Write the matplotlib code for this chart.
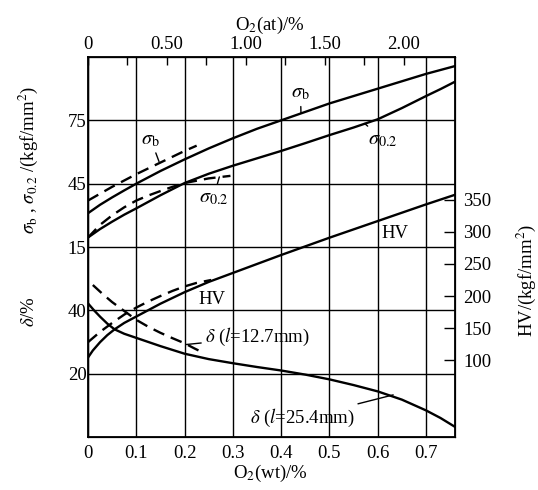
import numpy as np
import matplotlib
matplotlib.use("Agg")
import matplotlib.pyplot as plt

plt.rcParams["font.family"] = ["Liberation Serif", "DejaVu Serif"]
plt.rcParams["mathtext.fontset"] = "stix"

# ---- data ----
# x = O2 wt%
wt_sb = [0, 0.025, 0.05, 0.075, 0.1, 0.15, 0.2, 0.25, 0.3, 0.35, 0.4,
         0.45, 0.5, 0.55, 0.6, 0.65, 0.7, 0.76]
sb = [31, 35, 38.5, 41.8, 45, 51, 56.5, 61.7, 66.5, 71, 75,
      79, 83, 86.5, 90, 93.5, 97, 100.7]

wt_s02 = [0, 0.025, 0.05, 0.075, 0.1, 0.15, 0.2, 0.25, 0.3, 0.35, 0.4,
          0.45, 0.5, 0.55, 0.6, 0.65, 0.7, 0.73, 0.76]
s02 = [19.5, 23.5, 27, 30.3, 33.3, 39.5, 45.3, 49.7, 53.5, 57, 60.5,
       64.2, 68, 71.6, 75.5, 80.8, 86.5, 89.8, 93.3]

wt_sb_d = [0, 0.05, 0.1, 0.15, 0.2, 0.225]
sb_d = [37, 43.5, 49.5, 55, 60.5, 63]

wt_s02_d = [0, 0.025, 0.05, 0.075, 0.1, 0.125, 0.15, 0.175, 0.2, 0.25, 0.295]
s02_d = [19.5, 25.5, 30, 33.8, 37, 39.4, 41.5, 43.5, 45.3, 47.5, 48.7]

wt_hv = [0, 0.01, 0.025, 0.04, 0.055, 0.075, 0.1, 0.15, 0.2, 0.25, 0.3,
         0.35, 0.4, 0.45, 0.5, 0.55, 0.6, 0.65, 0.7, 0.76]
hv = [104, 115, 128, 139, 148, 158, 168, 188, 206, 222, 236,
      250, 264, 277.5, 291, 304, 317, 330, 343, 358]

wt_hv_d = [0, 0.025, 0.05, 0.075, 0.1, 0.125, 0.15, 0.175, 0.2, 0.225, 0.255]
hv_d = [128, 144, 158, 171, 182, 191.5, 200, 208, 215, 220.5, 225]

wt_dl = [0, 0.0125, 0.025, 0.04, 0.055, 0.075, 0.1, 0.125, 0.15, 0.2, 0.25,
         0.3, 0.35, 0.4, 0.45, 0.5, 0.55, 0.6, 0.65, 0.7, 0.73, 0.76]
dl = [42.2, 40, 38, 35.8, 34, 32.6, 31.3, 30, 28.7, 26.3, 24.6,
      23.3, 22.1, 21, 19.7, 18.2, 16.4, 14.4, 11.8, 8.4, 6, 3.2]

wt_ds = [0.01, 0.03, 0.05, 0.075, 0.1, 0.125, 0.15, 0.175, 0.2, 0.22, 0.24]
ds = [48, 45.2, 42.6, 39.8, 37, 34.8, 32.9, 31.2, 29.6, 28, 26.5]

wt_ticks = [0, 0.1, 0.2, 0.3, 0.4, 0.5, 0.6, 0.7]
wt_labels = ["0", "0.1", "0.2", "0.3", "0.4", "0.5", "0.6", "0.7"]
at_ticks = [0, 0.5, 1.0, 1.5, 2.0]
at_labels = ["0", "0.50", "1.00", "1.50", "2.00"]
at_minor = [0.25, 0.75, 1.25, 1.75]
sig_ticks = [-45, -15, 15, 45, 75]
sig_labels = ["", "", "15", "45", "75"]
d_ticks = [20, 40]
hv_ticks = [100, 150, 200, 250, 300, 350]

AT_PER_WT = 3.06
FS = 13.5
LW = 1.7
DASH = (5, 3)

fig = plt.figure(figsize=(5.38, 4.90), dpi=100)
ax = fig.add_axes([88 / 538, 1 - 437 / 490, 367 / 538, 380 / 490])

# sigma axis (main)
ax.set_xlim(0, 0.76)
ax.set_ylim(-75, 105)
ax.set_xticks(wt_ticks)
ax.set_xticklabels(wt_labels)
ax.set_yticks(sig_ticks)
ax.set_yticklabels(sig_labels)
ax.grid(True, color="black", lw=1.0)
ax.tick_params(axis="both", length=0, labelsize=FS)
ax.tick_params(axis="x", pad=6)
ax.tick_params(axis="y", pad=1)
for s in ax.spines.values():
    s.set_linewidth(1.3)

ax.plot(wt_sb, sb, color="black", lw=LW)
ax.plot(wt_s02, s02, color="black", lw=LW)
ax.plot(wt_sb_d, sb_d, color="black", lw=LW, dashes=DASH)
ax.plot(wt_s02_d, s02_d, color="black", lw=LW, dashes=DASH)

# delta axis, ticks on the left
ax_d = ax.twinx()
ax_d.set_ylim(0, 120)
ax_d.set_yticks(d_ticks)
ax_d.yaxis.tick_left()
ax_d.tick_params(length=0, labelsize=FS, pad=1)
ax_d.plot(wt_dl, dl, color="black", lw=LW)
ax_d.plot(wt_ds, ds, color="black", lw=LW, dashes=DASH)

# HV axis on the right
ax_hv = ax.twinx()
ax_hv.set_ylim(-20, 573)
ax_hv.set_yticks(hv_ticks)
ax_hv.tick_params(direction="in", length=8, width=1.0, labelsize=FS, pad=6)
ax_hv.plot(wt_hv, hv, color="black", lw=LW)
ax_hv.plot(wt_hv_d, hv_d, color="black", lw=LW, dashes=DASH)

# top axis: O2 at%
top = ax.secondary_xaxis("top", functions=(lambda w: w * AT_PER_WT,
                                           lambda a: a / AT_PER_WT))
top.set_xticks(at_ticks)
top.set_xticklabels(at_labels)
top.set_xticks(at_minor, minor=True)
top.tick_params(which="both", direction="in", length=6, width=1.0,
                labelsize=FS, pad=3)

# curve labels
lead = dict(arrowstyle="-", lw=1.0, color="black", shrinkA=1, shrinkB=0)
ax.annotate(r"$\sigma_{\mathrm{b}}$", xy=(0.441, 78.5), xytext=(0.44, 88),
            fontsize=FS + 1, ha="center", va="center", arrowprops=lead)
ax.annotate(r"$\sigma_{0.2}$", xy=(0.573, 73.5), xytext=(0.61, 66),
            fontsize=FS + 1, ha="center", va="center", arrowprops=lead)
ax.annotate(r"$\sigma_{\mathrm{b}}$", xy=(0.147, 55.5), xytext=(0.13, 66),
            fontsize=FS + 1, ha="center", va="center", arrowprops=lead)
ax.annotate(r"$\sigma_{0.2}$", xy=(0.272, 48.2), xytext=(0.26, 38.5),
            fontsize=FS + 1, ha="center", va="center", arrowprops=lead)
ax_hv.text(0.636, 298, "HV", fontsize=FS, ha="center", va="center")
ax_hv.text(0.257, 194, "HV", fontsize=FS, ha="center", va="center")
ax_d.annotate(r"$\delta$ ($l$=12.7mm)", xy=(0.203, 29.2), xytext=(0.243, 31.5),
              fontsize=FS, ha="left", va="center", arrowprops=lead)
ax_d.annotate(r"$\delta$ ($l$=25.4mm)", xy=(0.632, 13.3), xytext=(0.335, 6),
              fontsize=FS, ha="left", va="center", arrowprops=lead)

# axis titles
fig.text(270 / 538, 1 - 25 / 490, r"O$_2$(at)/%", fontsize=FS,
         ha="center", va="center")
fig.text(270 / 538, 1 - 473 / 490, r"O$_2$(wt)/%", fontsize=FS,
         ha="center", va="center")
fig.text(28 / 538, 1 - 160 / 490,
         r"$\sigma_{\mathrm{b}}$ , $\sigma_{0.2}$ /(kgf/mm$^2$)",
         fontsize=FS, rotation=90, ha="center", va="center")
fig.text(30 / 538, 1 - 312 / 490, r"$\delta$/%", fontsize=FS,
         rotation=90, ha="center", va="center")
fig.text(526 / 538, 1 - 280 / 490, r"HV/(kgf/mm$^2$)", fontsize=FS,
         rotation=90, ha="center", va="center")

fig.savefig("out.png", dpi=100)
